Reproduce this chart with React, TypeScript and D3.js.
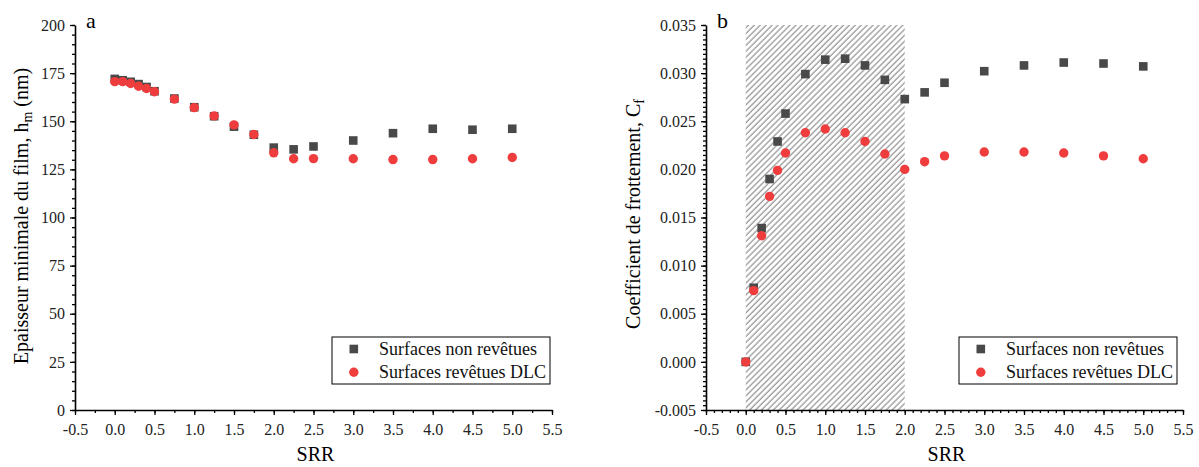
import { useEffect, useRef } from "react";
import * as d3 from "d3";

// SRR values (shared by both panels)
const srr = [0, 0.1, 0.2, 0.3, 0.4, 0.5, 0.75, 1.0, 1.25, 1.5, 1.75, 2.0, 2.25, 2.5, 3.0, 3.5, 4.0, 4.5, 5.0];

// panel a: minimum film thickness (nm)
const hmUncoated = [172.0, 171.3, 170.5, 169.3, 167.8, 165.6, 161.8, 157.3, 152.6, 147.2, 143.0, 136.3, 135.4, 136.9, 140.0, 143.8, 146.1, 145.6, 146.1];
const hmDlc = [170.6, 170.6, 169.6, 168.2, 167.0, 165.3, 161.5, 157.1, 152.8, 148.1, 143.1, 133.6, 130.5, 130.6, 130.5, 130.1, 130.1, 130.5, 131.2];

// panel b: friction coefficient
const cfUncoated = [0.0, 0.0077, 0.0139, 0.019, 0.0229, 0.0258, 0.0299, 0.0314, 0.0315, 0.0308, 0.0293, 0.0273, 0.028, 0.029, 0.0302, 0.0308, 0.0311, 0.031, 0.0307];
const cfDlc = [0.0, 0.0074, 0.0131, 0.0172, 0.0199, 0.0217, 0.0238, 0.0242, 0.0238, 0.0229, 0.0216, 0.02, 0.0208, 0.0214, 0.0218, 0.0218, 0.0217, 0.0214, 0.0211];

const xTicks = [-0.5, 0, 0.5, 1, 1.5, 2, 2.5, 3, 3.5, 4, 4.5, 5, 5.5];
const hmTicks = [0, 25, 50, 75, 100, 125, 150, 175, 200];
const cfTicks = [-0.005, 0, 0.005, 0.01, 0.015, 0.02, 0.025, 0.03, 0.035];
const hatchRange = [0, 2];

const legendLabels = ["Surfaces non revêtues", "Surfaces revêtues DLC"];

const GREY = "#494949";
const RED = "#ef3d3d";
const FONT = "'Liberation Serif', 'Times New Roman', serif";

// plain hyphen instead of the unicode minus d3 uses
const fmt = (spec: string) => (v: number) => d3.format(spec)(v).replace("−", "-");

function App() {
  const ref = useRef<SVGSVGElement>(null);

  useEffect(() => {
    const svg = d3.select(ref.current);
    svg.selectAll("*").remove();

    const defs = svg.append("defs");
    const pat = defs
      .append("pattern")
      .attr("id", "hatch")
      .attr("patternUnits", "userSpaceOnUse")
      .attr("width", 4.2)
      .attr("height", 10)
      .attr("patternTransform", "rotate(45)");
    pat
      .append("line")
      .attr("x1", 1)
      .attr("x2", 1)
      .attr("y1", 0)
      .attr("y2", 10)
      .attr("stroke", "#999")
      .attr("stroke-width", 1.3);

    const panels = [
      {
        letter: "a",
        xr: [75, 552],
        yDomain: [0, 200],
        yTicks: hmTicks,
        yMinorStep: 5,
        xMinorStep: 0.25,
        yFmt: fmt("d"),
        a: hmUncoated,
        b: hmDlc,
        hatch: false,
        legendX: 332,
      },
      {
        letter: "b",
        xr: [706, 1183],
        yDomain: [-0.005, 0.035],
        yTicks: cfTicks,
        yMinorStep: 0.0005,
        xMinorStep: 0.1,
        yFmt: fmt(".3f"),
        a: cfUncoated,
        b: cfDlc,
        hatch: true,
        legendX: 959,
      },
    ];

    panels.forEach((p) => {
      const x = d3.scaleLinear().domain([-0.5, 5.5]).range(p.xr);
      const y = d3.scaleLinear().domain(p.yDomain).range([410, 25]);
      const g = svg.append("g");

      // hatched SRR zone
      if (p.hatch) {
        g.append("rect")
          .attr("x", x(hatchRange[0]))
          .attr("y", y(p.yDomain[1]))
          .attr("width", x(hatchRange[1]) - x(hatchRange[0]))
          .attr("height", y(p.yDomain[0]) - y(p.yDomain[1]))
          .attr("fill", "url(#hatch)");
      }

      // minor ticks
      const xMinor = d3.range(-0.5, 5.5 + 1e-9, p.xMinorStep);
      const nY = Math.round((p.yDomain[1] - p.yDomain[0]) / p.yMinorStep);
      const yMinor = d3.range(0, nY + 1).map((i) => p.yDomain[0] + i * p.yMinorStep);
      g.append("g")
        .attr("transform", "translate(0,410)")
        .call(d3.axisBottom(x).tickValues(xMinor).tickSize(3).tickSizeOuter(0).tickFormat(() => ""))
        .call((s) => s.select(".domain").remove());
      g.append("g")
        .attr("transform", `translate(${p.xr[0]},0)`)
        .call(d3.axisLeft(y).tickValues(yMinor).tickSize(3).tickSizeOuter(0).tickFormat(() => ""))
        .call((s) => s.select(".domain").remove());

      // major axes
      const xa = g
        .append("g")
        .attr("transform", "translate(0,410)")
        .call(d3.axisBottom(x).tickValues(xTicks).tickSize(5).tickSizeOuter(0).tickPadding(9).tickFormat(fmt(".1f")));
      const ya = g
        .append("g")
        .attr("transform", `translate(${p.xr[0]},0)`)
        .call(d3.axisLeft(y).tickValues(p.yTicks).tickSize(5).tickSizeOuter(0).tickPadding(5).tickFormat(p.yFmt));
      [xa, ya].forEach((a) => {
        a.attr("font-family", FONT).attr("font-size", 16);
        a.selectAll("text").style("font-family", FONT).attr("fill", "#222");
        a.select(".domain").attr("stroke-width", 1.6);
      });
      g.selectAll(".tick line").attr("stroke-width", 1.3);

      // markers
      g.selectAll(".sq")
        .data(srr.map((s, i) => [s, p.a[i]]))
        .enter()
        .append("rect")
        .attr("x", (d) => x(d[0]) - 4.3)
        .attr("y", (d) => y(d[1]) - 4.3)
        .attr("width", 8.6)
        .attr("height", 8.6)
        .attr("fill", GREY);
      g.selectAll(".ci")
        .data(srr.map((s, i) => [s, p.b[i]]))
        .enter()
        .append("circle")
        .attr("cx", (d) => x(d[0]))
        .attr("cy", (d) => y(d[1]))
        .attr("r", 4.7)
        .attr("fill", RED);

      // panel letter
      g.append("text")
        .attr("x", p.xr[0] + 11)
        .attr("y", 28)
        .attr("font-family", FONT)
        .attr("font-size", 22)
        .text(p.letter);

      // x title
      g.append("text")
        .attr("x", (p.xr[0] + p.xr[1]) / 2 + 2)
        .attr("y", 461)
        .attr("text-anchor", "middle")
        .attr("font-family", FONT)
        .attr("font-size", 20)
        .text("SRR");

      // legend
      const lg = g.append("g").attr("transform", `translate(${p.legendX},337)`);
      lg.append("rect")
        .attr("width", 218)
        .attr("height", 47)
        .attr("fill", "white")
        .attr("stroke", "black")
        .attr("stroke-width", 1);
      lg.append("rect").attr("x", 17.5).attr("y", 7.7).attr("width", 8.6).attr("height", 8.6).attr("fill", GREY);
      lg.append("circle").attr("cx", 21.8).attr("cy", 35.3).attr("r", 4.7).attr("fill", RED);
      legendLabels.forEach((t, i) => {
        lg.append("text")
          .attr("x", 47)
          .attr("y", 18 + i * 23)
          .attr("font-family", FONT)
          .attr("font-size", 18)
          .attr("fill", "#111")
          .text(t);
      });
    });

    // y titles
    const yt1 = svg
      .append("text")
      .attr("transform", "translate(28,216) rotate(-90)")
      .attr("text-anchor", "middle")
      .attr("font-family", FONT)
      .attr("font-size", 20);
    yt1.append("tspan").text("Epaisseur minimale du film, h");
    yt1.append("tspan").attr("font-size", 14).attr("dy", 4).text("m");
    yt1.append("tspan").attr("dy", -4).text(" (nm)");

    const yt2 = svg
      .append("text")
      .attr("transform", "translate(640,214) rotate(-90)")
      .attr("text-anchor", "middle")
      .attr("font-family", FONT)
      .attr("font-size", 20);
    yt2.append("tspan").text("Coefficient de frottement, C");
    yt2.append("tspan").attr("font-size", 14).attr("dy", 4).text("f");
  }, []);

  return (
    <svg
      ref={ref}
      width={1199}
      height={467}
      style={{ position: "absolute", left: 0, top: 0, background: "white" }}
    />
  );
}

export default App;
